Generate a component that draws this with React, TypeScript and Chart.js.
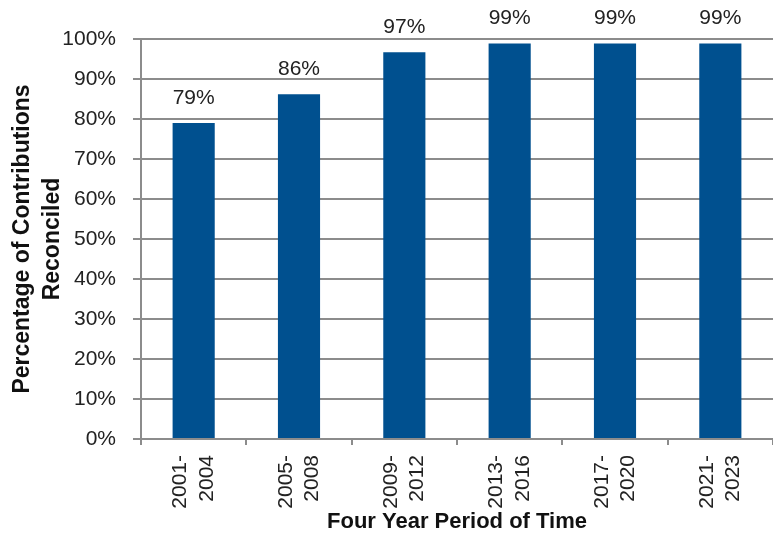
import React, { useEffect, useRef } from "react";
import { Chart, registerables } from "chart.js";

Chart.register(...registerables);

const categories: string[][] = [
  ["2001-", "2004"],
  ["2005-", "2008"],
  ["2009-", "2012"],
  ["2013-", "2016"],
  ["2017-", "2020"],
  ["2021-", "2023"],
];
const reconciledPct: number[] = [79, 86.2, 96.7, 98.9, 98.9, 98.9];
const yTitle: string[] = ["Percentage of Contributions", "Reconciled"];
const xTitle = "Four Year Period of Time";

const FONT = "'Liberation Sans', Arial, sans-serif";
const GRID = "#8c8c8c";
const BAR = "#00508f";

const valueLabels = {
  id: "valueLabels",
  afterDatasetsDraw(chart: any) {
    const ctx = chart.ctx;
    const meta = chart.getDatasetMeta(0);
    const data = chart.data.datasets[0].data as number[];
    ctx.save();
    ctx.font = `21px ${FONT}`;
    ctx.fillStyle = "#222";
    ctx.textAlign = "center";
    ctx.textBaseline = "alphabetic";
    meta.data.forEach((el: any, i: number) => {
      ctx.fillText(`${Math.round(data[i])}%`, el.x, el.y - 19);
    });
    ctx.restore();
  },
};

export default function App() {
  const ref = useRef<HTMLCanvasElement>(null);
  useEffect(() => {
    if (!ref.current) return;
    const chart = new Chart(ref.current, {
      type: "bar",
      data: {
        labels: categories,
        datasets: [
          {
            data: reconciledPct,
            backgroundColor: BAR,
            borderWidth: 0,
            barPercentage: 0.4,
            categoryPercentage: 1,
          },
        ],
      },
      options: {
        responsive: false,
        animation: false,
        layout: { padding: { top: 39, right: 0, left: 0, bottom: 0 } },
        plugins: { legend: { display: false }, tooltip: { enabled: false } },
        scales: {
          x: {
            grid: {
              drawOnChartArea: false,
              drawTicks: true,
              tickLength: 6,
              color: GRID,
              lineWidth: 2,
            },
            border: { display: true, color: GRID, width: 2 },
            ticks: {
              minRotation: 90,
              maxRotation: 90,
              autoSkip: false,
              padding: 10,
              labelOffset: -13,
              color: "#222",
              font: { family: FONT, size: 21, lineHeight: 1.25 },
            },
            title: {
              display: true,
              text: xTitle,
              color: "#111",
              font: { family: FONT, size: 22, weight: "bold", lineHeight: 1.2 },
              padding: { top: 0, bottom: 2 },
            },
            afterFit: (s: any) => {
              s.height = 98;
              s.paddingLeft = 0;
              s.paddingRight = 0;
            },
          },
          y: {
            min: 0,
            max: 100,
            grid: {
              drawOnChartArea: true,
              drawTicks: true,
              tickLength: 8,
              color: GRID,
              lineWidth: 2,
            },
            border: { display: true, color: GRID, width: 2 },
            ticks: {
              stepSize: 10,
              padding: 17,
              color: "#222",
              font: { family: FONT, size: 21 },
              callback: (v: any) => `${v}%`,
            },
            title: {
              display: true,
              text: yTitle,
              color: "#111",
              font: { family: FONT, size: 23, weight: "bold", lineHeight: 1.28 },
              padding: { top: 8, bottom: 0 },
            },
            afterFit: (s: any) => {
              s.width = 141;
              s.paddingTop = 0;
              s.paddingBottom = 0;
            },
          },
        },
      },
      plugins: [valueLabels],
    });
    return () => chart.destroy();
  }, []);
  return (
    <div style={{ position: "absolute", left: 0, top: 0, width: 773, height: 537, background: "#fff" }}>
      <canvas ref={ref} width={773} height={537} style={{ display: "block" }} />
    </div>
  );
}
